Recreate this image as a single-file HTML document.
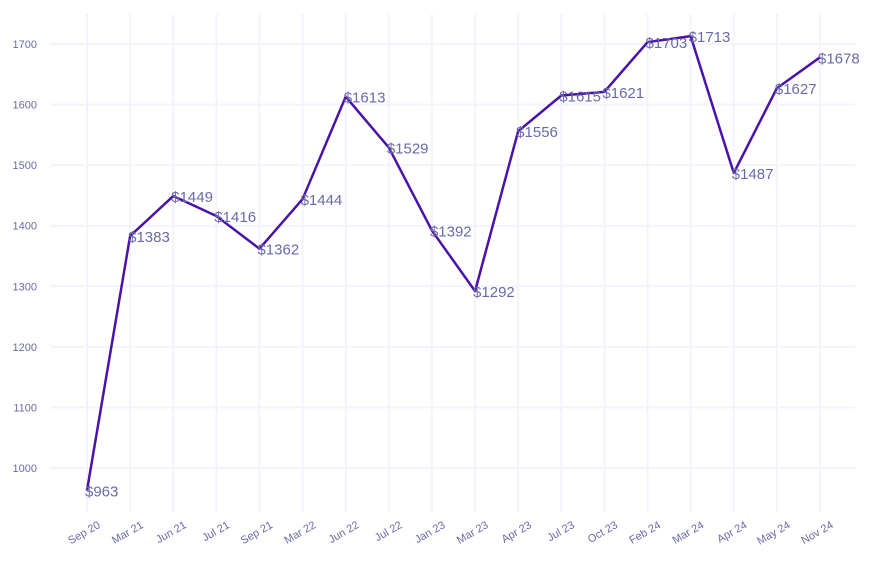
<!DOCTYPE html>
<html><head><meta charset="utf-8"><style>
body{margin:0;background:#fff;}
svg text{font-family:"Liberation Sans",sans-serif;}
</style></head><body>
<svg id="chart" width="873" height="565" xmlns="http://www.w3.org/2000/svg">
<g id="grid"></g>
<g id="yaxis"></g>
<g id="xaxis"></g>
<path id="line" fill="none" stroke="#4a12a8" stroke-width="2.5" stroke-linejoin="round"></path>
<g id="labels"></g>
</svg>
<script>
const categories=["Sep 20","Mar 21","Jun 21","Jul 21","Sep 21","Mar 22","Jun 22","Jul 22","Jan 23","Mar 23","Apr 23","Jul 23","Oct 23","Feb 24","Mar 24","Apr 24","May 24","Nov 24"];
const values=[963,1383,1449,1416,1362,1444,1613,1529,1392,1292,1556,1615,1621,1703,1713,1487,1627,1678];
const yTicks=[1000,1100,1200,1300,1400,1500,1600,1700];
const NS="http://www.w3.org/2000/svg";
const plotX0=87,plotX1=820,plotLeft=50,plotRight=855,plotTop=14,plotBottom=512;
const xs=i=>plotX0+(plotX1-plotX0)*i/(categories.length-1);
const ys=v=>468-(v-1000)*(468-44)/700;
function mk(tag,attrs,parent,txt){const e=document.createElementNS(NS,tag);for(const k in attrs)e.setAttribute(k,attrs[k]);if(txt!==undefined)e.textContent=txt;parent.appendChild(e);return e;}
const gridG=document.getElementById('grid'),yAxisG=document.getElementById('yaxis'),xAxisG=document.getElementById('xaxis'),labelG=document.getElementById('labels');
yTicks.forEach(t=>{
  const l=mk('line',{x1:plotLeft,x2:plotRight,y1:ys(t),y2:ys(t),stroke:'#f3f3fc','stroke-width':2},gridG);
  
  
  const tx=mk('text',{x:37,y:ys(t)+4,'text-anchor':'end','font-size':11,fill:'#6a6aa8'},yAxisG,t);
  
  
});
categories.forEach((c,i)=>{
  const x=xs(i);
  const l=mk('line',{x1:x,x2:x,y1:plotTop,y2:plotBottom,stroke:'#f3f3fc','stroke-width':2},gridG);
  
  
  const tx=mk('text',{x:x+14,y:527,'text-anchor':'end','font-size':11,fill:'#6a6aa8',transform:`rotate(-30 ${x+14} 527)`},xAxisG,c);
  
  
});
document.getElementById('line').setAttribute('d',values.map((v,i)=>(i?'L':'M')+xs(i)+','+ys(v)).join(''));
values.forEach((v,i)=>{
  const tx=mk('text',{x:xs(i)-2,y:ys(v)+6,'font-size':15,fill:'#6a6aa8'},labelG,'$'+v);
  
  
});
</script>
</body></html>
